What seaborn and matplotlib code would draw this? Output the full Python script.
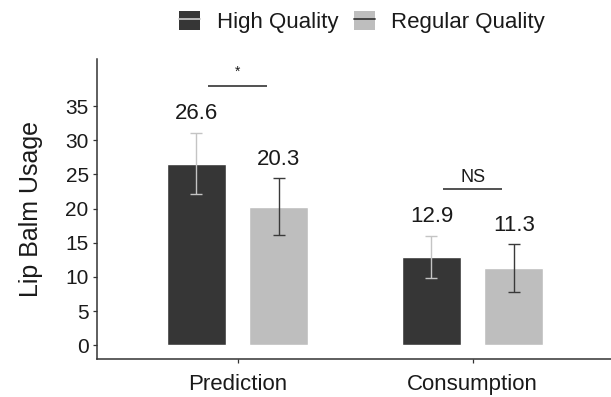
import numpy as np
import pandas as pd
import matplotlib
matplotlib.use("Agg")
import matplotlib.pyplot as plt
import seaborn as sns
from matplotlib.patches import Patch
from matplotlib.lines import Line2D
from matplotlib.legend_handler import HandlerTuple

# ---- data ----
conditions = ["Prediction", "Consumption"]
qualities = ["High Quality", "Regular Quality"]
usage_high = [26.6, 12.9]
usage_regular = [20.3, 11.3]
se_high = [4.5, 3.1]
se_regular = [4.15, 3.5]
sig_labels = ["*", "NS"]
y_ticks = [0, 5, 10, 15, 20, 25, 30, 35]

df = pd.DataFrame({
    "condition": conditions * 2,
    "quality": [qualities[0]] * 2 + [qualities[1]] * 2,
    "usage": usage_high + usage_regular,
    "se": se_high + se_regular,
})

# ---- style ----
sns.set_theme(style="white")
plt.rcParams["font.family"] = ["Liberation Sans", "DejaVu Sans"]
text_color = "#1a1a1a"
axis_color = "#333333"

palette = {"High Quality": "#363636", "Regular Quality": "#bebebe"}
err_colors = {"High Quality": "#c4c4c4", "Regular Quality": "#3a3a3a"}

fig = plt.figure(figsize=(6.11, 3.97), dpi=100)
ax = fig.add_axes([97 / 611, 38 / 397, 514 / 611, 300 / 397])

sns.barplot(data=df, x="condition", y="usage", hue="quality",
            order=conditions, hue_order=qualities, palette=palette,
            width=0.7, gap=0.28, errorbar=None, saturation=1,
            legend=False, ax=ax)

# error bars and value labels on each bar
centers = {}
tops = {}
for q, container in zip(qualities, ax.containers):
    sub = df[df["quality"] == q].set_index("condition").loc[conditions]
    xs = [b.get_x() + b.get_width() / 2 for b in container]
    means = sub["usage"].to_numpy()
    ses = sub["se"].to_numpy()
    ax.errorbar(xs, means, yerr=ses, fmt="none", ecolor=err_colors[q],
                elinewidth=1.0, capsize=4, capthick=1.0, zorder=3)
    for x, m, s, c in zip(xs, means, ses, conditions):
        ax.text(x, m + s + 2.8, f"{m:.1f}", ha="center", va="center",
                fontsize=16, color=text_color)
        centers.setdefault(c, []).append(x)
        tops.setdefault(c, []).append(m + s)

# significance brackets
inset = 0.049
for c, lab in zip(conditions, sig_labels):
    x0, x1 = centers[c][0] + inset, centers[c][1] - inset
    yb = max(tops[c]) + 6.9
    ax.plot([x0, x1], [yb, yb], color="#222222", lw=1.1, solid_capstyle="butt")
    if lab == "*":
        ax.text((x0 + x1) / 2, yb + 1.5, lab, ha="center", va="baseline",
                fontsize=10, color=text_color)
    else:
        ax.text((x0 + x1) / 2, yb + 1.0, lab, ha="center", va="baseline",
                fontsize=13, color=text_color)

# axes
ax.set_xlim(-0.598, 1.589)
ax.set_ylim(-2.0, 41.9)
ax.set_yticks(y_ticks)
ax.set_xlabel("")
ax.set_ylabel("Lip Balm Usage", fontsize=18, color=text_color, labelpad=16)
for side in ["top", "right"]:
    ax.spines[side].set_visible(False)
for side in ["left", "bottom"]:
    ax.spines[side].set_color(axis_color)
    ax.spines[side].set_linewidth(1.1)
ax.tick_params(axis="both", length=3, width=0.9, color=axis_color,
               labelcolor=text_color, direction="out")
ax.tick_params(axis="y", labelsize=15, pad=3)
ax.tick_params(axis="x", labelsize=16, pad=8)
ax.tick_params(left=True, bottom=True)

# legend
handles = [(Patch(facecolor=palette[q], edgecolor="none"),
            Line2D([], [], color=err_colors[q], lw=1.3)) for q in qualities]
fig.legend(handles, qualities, handler_map={tuple: HandlerTuple(ndivide=1, pad=0)},
           loc="center", bbox_to_anchor=(0.593, 0.945), ncol=2, frameon=False,
           fontsize=16, handlelength=0.93, handleheight=0.93,
           handletextpad=0.75, columnspacing=0.71, borderpad=0,
           labelcolor=text_color)

fig.savefig("out.png", dpi=100)
